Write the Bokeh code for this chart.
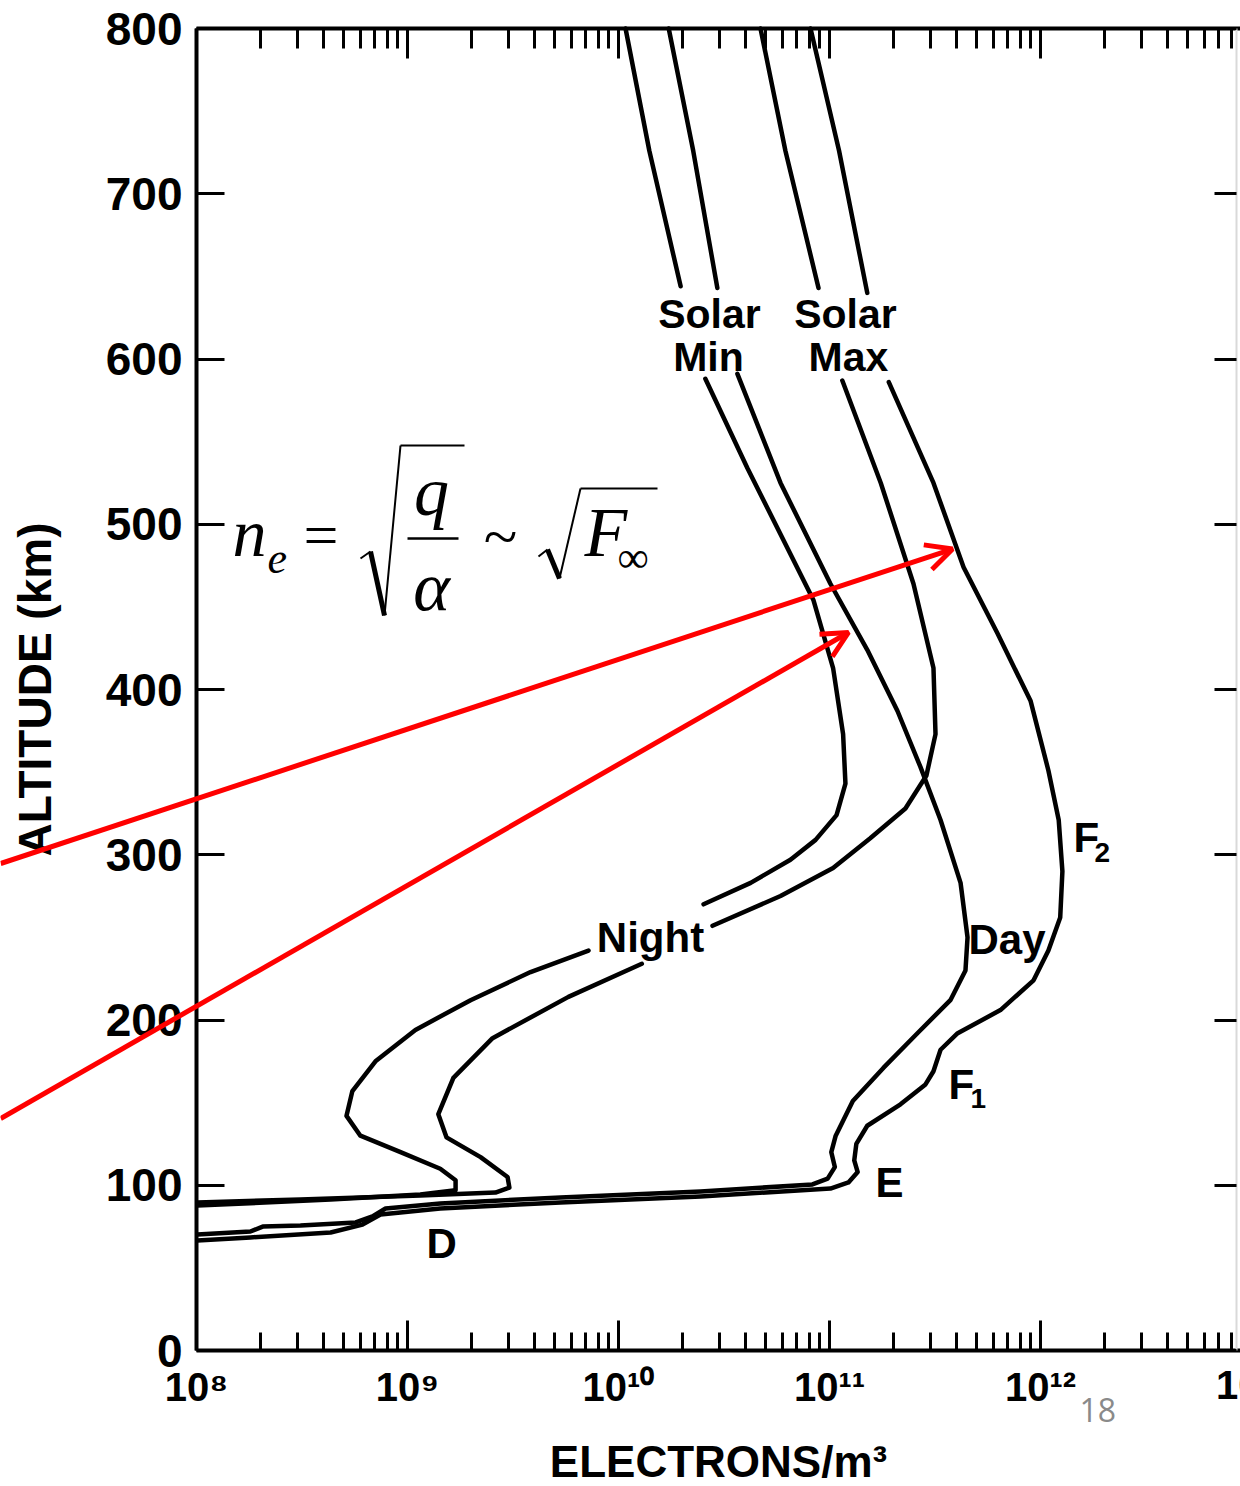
import numpy as np
from bokeh.plotting import figure
from bokeh.models import LogAxis, LinearAxis, FixedTicker, Label, Arrow, OpenHead, Range1d
from bokeh.embed import file_html
from bokeh.resources import INLINE

nan = float("nan")

# ---------------- data ----------------
X_TICKS = [1e8, 1e9, 1e10, 1e11, 1e12]
X_TICK_LABELS = ["10⁸", "10⁹", "10¹⁰", "10¹¹", "10¹²"]
X_MINOR_MULT = [2, 3, 4, 5, 6, 7, 8, 9]
Y_TICKS = [0, 100, 200, 300, 400, 500, 600, 700, 800]
Y_TICK_LABELS = ["0", "100", "200", "300", "400", "500", "600", "700", "800"]

# Solar minimum, night
min_night_alt = [800, 726, 644, nan, 588, 534, 494, 454, 413, 373, 343, 324, 309, 297, 283, 270, nan,
                 242, 229, 212, 194, 175, 157, 142, 130, 120, 110, 103, 97, 94.4, 91.4, 87.7]
min_night_ne = [1.08e10, 1.40e10, 1.97e10, nan, 2.58e10, 4.08e10, 5.86e10, 8.40e10, 1.04e11, 1.16e11,
                1.19e11, 1.08e11, 8.59e10, 6.53e10, 4.23e10, 2.53e10, nan,
                7.21e9, 3.83e9, 1.99e9, 1.09e9, 7.05e8, 5.48e8, 5.14e8, 5.98e8, 9.27e8, 1.43e9,
                1.69e9, 1.69e9, 1.15e9, 4.32e8, 1.01e8]

# Solar maximum, night
max_night_alt = [800, 726, 643, nan, 587, 525, 464, 413, 373, 348, 328, 310, 292, 275, 257, nan,
                 234, 214, 189, 165, 143, 129, 117, 105, 98.6, 95.6, 93.8, 91.4, 89.6]
max_night_ne = [4.71e10, 6.18e10, 8.87e10, nan, 1.15e11, 1.75e11, 2.50e11, 3.11e11, 3.18e11, 2.88e11,
                2.29e11, 1.56e11, 1.04e11, 5.86e10, 2.79e10, nan,
                1.29e10, 5.79e9, 2.53e9, 1.65e9, 1.40e9, 1.53e9, 2.22e9, 2.98e9, 3.04e9, 2.61e9,
                1.15e9, 3.11e8, 1.01e8]

# Solar minimum, day
min_day_alt = [800, 726, 643, nan, 591, 525, 464, 424, 387, 353, 321, 283, 250, 230, 212, 192, 171,
               151, 130, 120, 111, 104, 100.5, 96.2, 92.6, 89.0, 85.9, 81.1, 77.5, 75.6, 75.0, 72.0, 70.2]
min_day_ne = [1.73e10, 2.26e10, 2.94e10, nan, 3.66e10, 5.86e10, 1.01e11, 1.51e11, 2.10e11, 2.70e11,
              3.36e11, 4.18e11, 4.51e11, 4.41e11, 3.74e11, 2.61e11, 1.80e11, 1.29e11, 1.07e11,
              1.02e11, 1.06e11, 9.80e10, 8.30e10, 2.45e10, 5.31e9, 1.43e9, 7.87e8, 6.82e8, 5.68e8,
              3.11e8, 2.06e8, 1.80e8, 1.01e8]

# Solar maximum, day
max_day_alt = [800, 726, 640, nan, 586, 525, 474, 434, 393, 351, 321, 290, 262, 242, 224, 206, 192,
               182, 169, 161, 149, 136, 125, 115, 108, 101.7, 98.0, 93.2, 89.6, 85.9, 82.3, 76.2,
               71.4, 68.4, 66.6]
max_day_ne = [8.13e10, 1.11e11, 1.51e11, nan, 1.91e11, 3.11e11, 4.32e11, 6.25e11, 8.98e11, 1.09e12,
              1.22e12, 1.27e12, 1.24e12, 1.09e12, 9.27e11, 6.46e11, 4.05e11, 3.36e11, 3.11e11,
              2.85e11, 2.17e11, 1.51e11, 1.34e11, 1.31e11, 1.36e11, 1.23e11, 1.01e11, 2.45e10,
              5.31e9, 1.43e9, 7.45e8, 6.12e8, 4.32e8, 1.80e8, 1.01e8]

# red annotation arrows (tail at the left page edge, tip on a curve)
ARROW_TAIL_NE = [1.18e7, 1.18e7]
ARROW_TAIL_ALT = [294.7, 140.4]
ARROW_TIP_NE = [3.83e11, 1.23e11]
ARROW_TIP_ALT = [485.0, 434.5]

# ---------------- page geometry ----------------
PAGE_W, PAGE_H = 1240, 1486
AX_LEFT_PX = 196      # page x of the 1e8 axis
AX_RIGHT_PX = 1236    # page x of the right spine
DECADE_PX = 211       # pixels per decade
AX_BOTTOM_PX = 1350   # page y of altitude 0
KM_PX = 1.6525        # pixels per km

x_lo = 10 ** (8 - AX_LEFT_PX / DECADE_PX)
x_hi = 10 ** (8 + (PAGE_W - AX_LEFT_PX) / DECADE_PX)
x_right_spine = 10 ** (8 + (AX_RIGHT_PX - AX_LEFT_PX) / DECADE_PX)
y_lo = (AX_BOTTOM_PX - PAGE_H) / KM_PX
y_hi = AX_BOTTOM_PX / KM_PX

FONT = "Liberation Sans"
p = figure(width=PAGE_W, height=PAGE_H, x_axis_type="log",
           x_range=Range1d(x_lo, x_hi), y_range=Range1d(y_lo, y_hi),
           output_backend="svg", toolbar_location=None,
           min_border=0, min_border_left=0, min_border_right=0, min_border_top=0, min_border_bottom=0,
           background_fill_color="white", border_fill_color="white", outline_line_color=None)
p.grid.visible = False

x_minor = [m * t for t in X_TICKS for m in X_MINOR_MULT]

xa = p.xaxis[0]
xa.fixed_location = Y_TICKS[0]
xa.bounds = (X_TICKS[0], x_hi)
xa.ticker = FixedTicker(ticks=X_TICKS, minor_ticks=x_minor)
xa.major_label_overrides = dict(zip(X_TICKS, X_TICK_LABELS))
xa.major_tick_in, xa.major_tick_out = 30, 0
xa.minor_tick_in, xa.minor_tick_out = 18, 0
xa.axis_line_width = 4
xa.major_tick_line_width = 3
xa.minor_tick_line_width = 3
xa.major_label_text_font = FONT
xa.major_label_text_font_style = "bold"
xa.major_label_text_font_size = "40px"
xa.major_label_text_color = "black"
xa.major_label_standoff = 14
xa.axis_label = "ELECTRONS/m³"
xa.axis_label_text_font = FONT
xa.axis_label_text_font_style = "bold"
xa.axis_label_text_font_size = "44px"
xa.axis_label_text_color = "black"
xa.axis_label_standoff = 25

ya = p.yaxis[0]
ya.fixed_location = X_TICKS[0]
ya.bounds = (Y_TICKS[0], Y_TICKS[-1])
ya.ticker = FixedTicker(ticks=Y_TICKS, minor_ticks=[])
ya.major_label_overrides = dict(zip(Y_TICKS, Y_TICK_LABELS))
ya.major_tick_in, ya.major_tick_out = 28, 0
ya.minor_tick_in, ya.minor_tick_out = 0, 0
ya.axis_line_width = 4
ya.major_tick_line_width = 3
ya.major_label_text_font = FONT
ya.major_label_text_font_style = "bold"
ya.major_label_text_font_size = "46px"
ya.major_label_text_color = "black"
ya.major_label_standoff = 14
ya.axis_label = "ALTITUDE (km)"
ya.axis_label_text_font = FONT
ya.axis_label_text_font_style = "bold"
ya.axis_label_text_font_size = "46px"
ya.axis_label_text_color = "black"
ya.axis_label_standoff = 42

top = LogAxis(fixed_location=Y_TICKS[-1], bounds=(X_TICKS[0], x_hi),
              ticker=FixedTicker(ticks=X_TICKS, minor_ticks=x_minor),
              major_label_overrides={t: "" for t in X_TICKS},
              major_tick_in=30, major_tick_out=0, minor_tick_in=20, minor_tick_out=0,
              axis_line_width=4, major_tick_line_width=3, minor_tick_line_width=3)
p.add_layout(top, "above")

right = LinearAxis(fixed_location=x_right_spine, bounds=(Y_TICKS[0], Y_TICKS[-1]),
                   ticker=FixedTicker(ticks=Y_TICKS, minor_ticks=[]),
                   major_label_overrides={t: "" for t in Y_TICKS},
                   major_tick_in=22, major_tick_out=0, minor_tick_in=0, minor_tick_out=0,
                   axis_line_color="#d9d9d9", axis_line_width=2, major_tick_line_width=3)
p.add_layout(right, "right")

# ---------------- curves ----------------
for alt, ne in [(min_night_alt, min_night_ne), (max_night_alt, max_night_ne),
                (min_day_alt, min_day_ne), (max_day_alt, max_day_ne)]:
    p.line(np.array(ne, dtype=float), np.array(alt, dtype=float), line_color="black",
           line_width=4.5, line_join="round", line_cap="round")

# ---------------- red arrows ----------------
for xs, ys, xe, ye in zip(ARROW_TAIL_NE, ARROW_TAIL_ALT, ARROW_TIP_NE, ARROW_TIP_ALT):
    p.add_layout(Arrow(x_start=xs, y_start=ys, x_end=xe, y_end=ye, line_color="#ff0000",
                       line_width=5, end=OpenHead(size=26, line_color="#ff0000", line_width=5)))


# ---------------- text annotations (page pixel positions; frame == page) ----------------
def lab(text, px, base_py, size, align="left", style="bold", font=FONT, color="black"):
    mid = base_py - 0.33 * size
    p.add_layout(Label(x=px, y=PAGE_H - mid, x_units="screen", y_units="screen", text=text,
                       text_font=font, text_font_style=style, text_font_size=f"{size}px",
                       text_color=color, text_align=align, text_baseline="middle"))


lab("Solar", 709, 327, 41, "center")
lab("Min", 708, 370, 41, "center")
lab("Solar", 845, 327, 41, "center")
lab("Max", 848, 370, 41, "center")
lab("Night", 650, 951, 42, "center")
lab("Day", 968, 953, 42)
lab("F", 1073, 851, 42)
lab("2", 1094, 861, 28)
lab("F", 948, 1098, 42)
lab("1", 970, 1107, 28)
lab("E", 875, 1196, 42)
lab("D", 426, 1257, 42)
lab("18", 1079, 1420, 32, style="normal", font="Open Sans", color="#8a8a8a")
lab("10¹³", 1251, 1398, 40, "center")

# equation  n_e = sqrt(q/alpha) ~ sqrt(F_inf)
SERIF = "Liberation Serif"
lab("n", 232, 555, 68, style="italic", font=SERIF)
lab("e", 267, 573, 44, style="italic", font=SERIF)
lab("=", 303, 555, 62, style="normal", font=SERIF)
lab("q", 431, 514, 70, "center", style="italic", font=SERIF)
lab("α", 431, 609, 70, "center", style="italic", font=SERIF)
lab("~", 500, 556, 62, "center", style="normal", font=SERIF)
lab("F", 584, 555, 70, style="italic", font=SERIF)
lab("∞", 617, 572, 44, style="normal", font=SERIF)


def stroke(px0, py0, px1, py1, w):
    p.add_layout(Arrow(x_start=px0, y_start=PAGE_H - py0, x_end=px1, y_end=PAGE_H - py1,
                       start_units="screen", end_units="screen", end=None,
                       line_color="black", line_width=w))


# first radical and fraction bar
stroke(360, 558, 370, 551, 2)
stroke(370, 551, 384, 615, 5)
stroke(384, 615, 400, 445, 2)
stroke(400, 445, 464, 445, 2)
stroke(407, 538, 458, 538, 2.5)
# second radical
stroke(538, 556, 547, 549, 2)
stroke(547, 549, 559, 578, 5)
stroke(559, 578, 580, 488, 2)
stroke(580, 488, 657, 488, 2)

open("out.html", "w").write(file_html(p, INLINE))
